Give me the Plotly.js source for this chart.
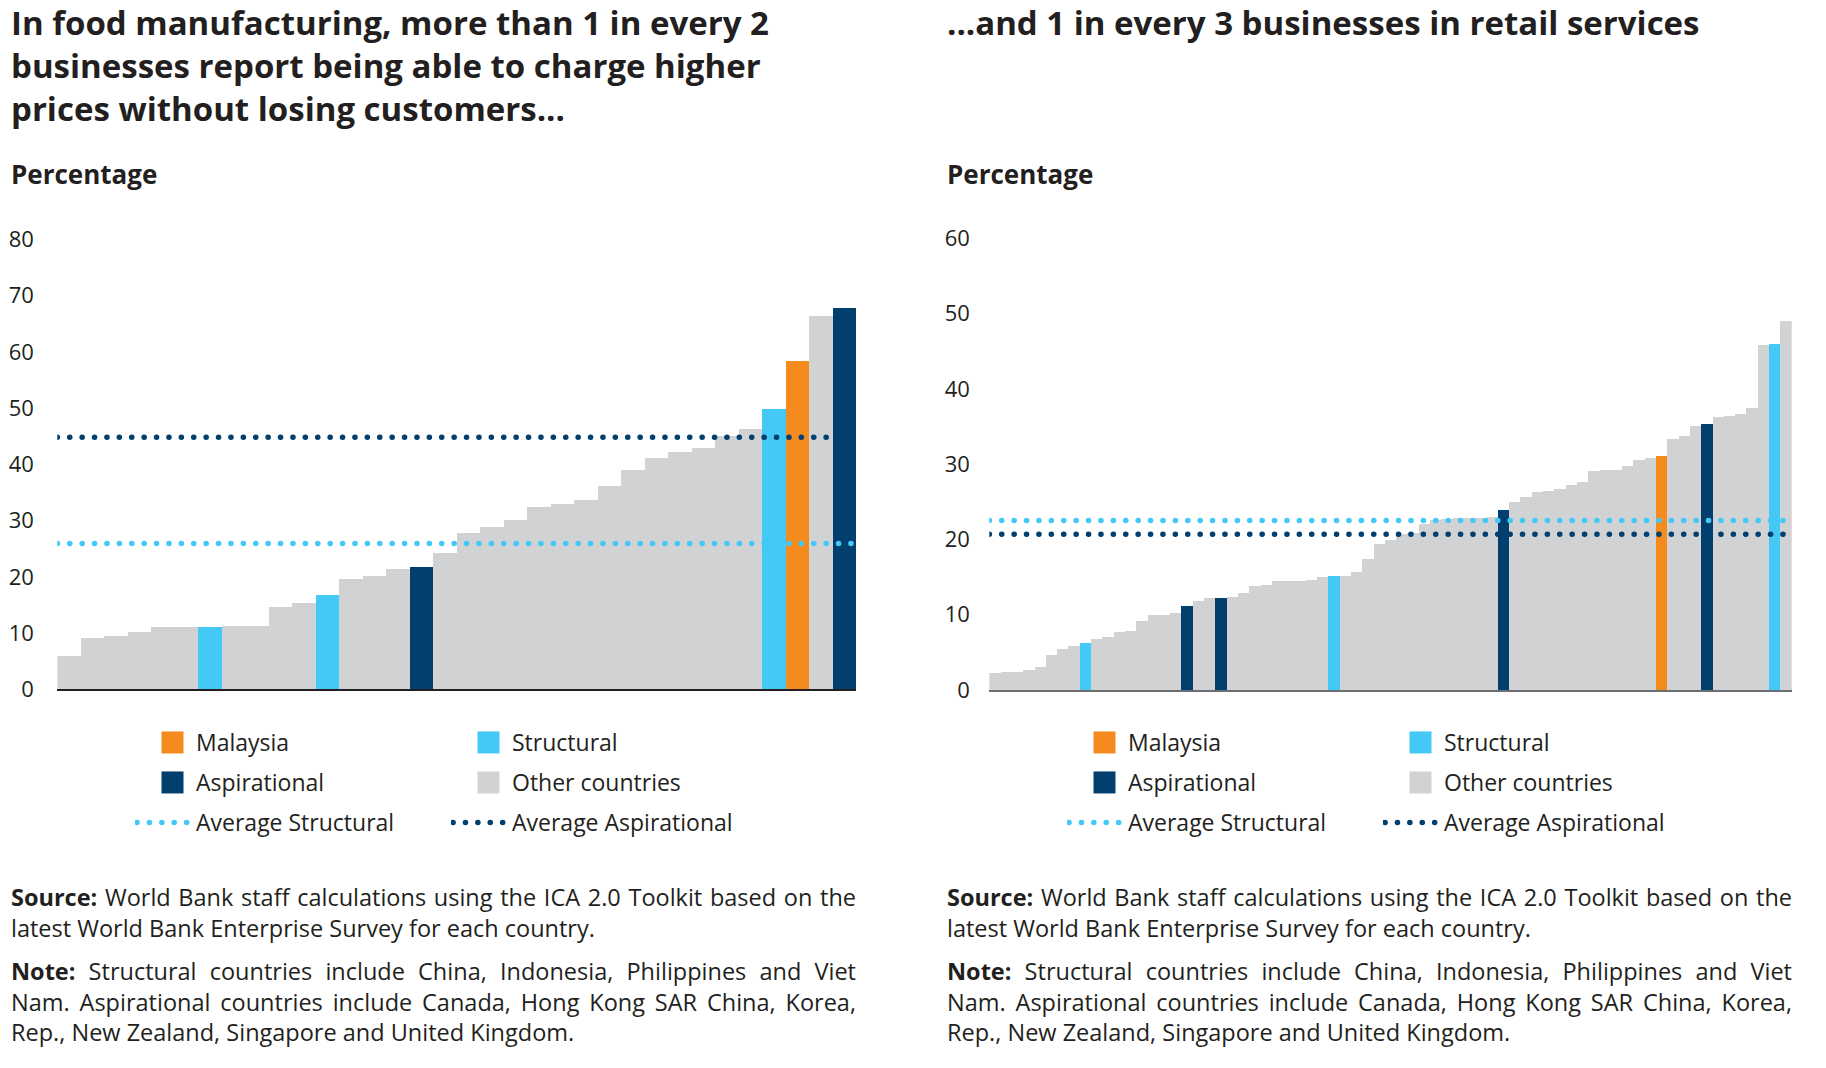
<!DOCTYPE html>
<html>
<head>
<meta charset="utf-8">
<script src="https://cdn.plot.ly/plotly-3.0.1.min.js"></script>
<style>
  body { margin: 0; background: #fff; }
  #chart { width: 1826px; height: 1068px; }
  /* round caps turn the dotted average lines into dots */
  #chart .js-line { stroke-linecap: round !important; }
</style>
</head>
<body>
<div id="chart"></div>
<script>
// food manufacturing, sorted ascending, one bar per country
const foodValues = [5.9, 9.05, 9.5, 10.2, 11.1, 11.1, 11.1, 11.2, 11.2, 14.6,
    15.3, 16.8, 19.6, 20.1, 21.4, 21.7, 24.3, 27.8, 28.8, 30.1,
    32.4, 32.9, 33.7, 36.1, 38.9, 41.1, 42.2, 42.9, 45.1, 46.2,
    49.8, 58.3, 66.3, 67.8];
// M = Malaysia, S = Structural, A = Aspirational, O = Other countries
const foodGroups = ['O', 'O', 'O', 'O', 'O', 'O', 'S', 'O', 'O', 'O',
    'O', 'S', 'O', 'O', 'O', 'A', 'O', 'O', 'O', 'O',
    'O', 'O', 'O', 'O', 'O', 'O', 'O', 'O', 'O', 'O',
    'S', 'M', 'O', 'A'];
const foodAvgStructural = 25.9;
const foodAvgAspirational = 44.8;

// retail services
const retailValues = [2.3, 2.4, 2.4, 2.6, 3.1, 4.6, 5.5, 5.9, 6.3, 6.8,
    7.0, 7.7, 7.9, 9.1, 9.9, 9.9, 10.2, 11.1, 11.8, 12.2,
    12.2, 12.3, 12.9, 13.8, 13.9, 14.5, 14.5, 14.5, 14.6, 15.0,
    15.1, 15.1, 15.7, 17.4, 19.4, 19.9, 20.7, 20.8, 22.0, 22.6,
    22.7, 22.8, 22.9, 22.9, 23.0, 23.9, 25.0, 25.6, 26.3, 26.5,
    26.7, 27.2, 27.6, 29.1, 29.2, 29.2, 29.7, 30.5, 30.8, 31.1,
    33.4, 33.8, 35.1, 35.4, 36.3, 36.4, 36.7, 37.4, 45.8, 45.9,
    49.0];
const retailGroups = ['O', 'O', 'O', 'O', 'O', 'O', 'O', 'O', 'S', 'O',
    'O', 'O', 'O', 'O', 'O', 'O', 'O', 'A', 'O', 'O',
    'A', 'O', 'O', 'O', 'O', 'O', 'O', 'O', 'O', 'O',
    'S', 'O', 'O', 'O', 'O', 'O', 'O', 'O', 'O', 'O',
    'O', 'O', 'O', 'O', 'O', 'A', 'O', 'O', 'O', 'O',
    'O', 'O', 'O', 'O', 'O', 'O', 'O', 'O', 'O', 'M',
    'O', 'O', 'O', 'A', 'O', 'O', 'O', 'O', 'O', 'S',
    'O'];
const retailAvgStructural = 22.5;
const retailAvgAspirational = 20.7;

const foodTicks = [0, 10, 20, 30, 40, 50, 60, 70, 80];
const retailTicks = [0, 10, 20, 30, 40, 50, 60];

const ORANGE = '#F58A1F';
const CYAN = '#44C8F5';
const NAVY = '#003F6E';
const GREY = '#D1D2D4';
const INK = '#231F20';
const FONT = '"Open Sans", "Noto Sans", sans-serif';

const W = 1826, H = 1068;
const px = x => x / W;
const py = y => 1 - y / H;

// legend columns: [first column, second column]
const groupDefs = [
    { key: 'M', name: 'Malaysia', color: ORANGE, col: 0 },
    { key: 'S', name: 'Structural', color: CYAN, col: 1 },
    { key: 'A', name: 'Aspirational', color: NAVY, col: 0 },
    { key: 'O', name: 'Other countries', color: GREY, col: 1 },
];

function chartTraces(values, groups, avgS, avgA, axis, legends, id) {
    const xa = 'x' + axis, ya = 'y' + axis;
    const traces = [];
    groupDefs.forEach(g => {
        const xs = [], ys = [];
        values.forEach((v, i) => {
            if (groups[i] === g.key) { xs.push(i); ys.push(v); }
        });
        traces.push({
            type: 'bar', x: xs, y: ys, width: 1, name: g.name,
            marker: { color: g.color, line: { width: 0 } },
            xaxis: xa, yaxis: ya,
            legend: legends[g.col], legendgroup: id + g.key,
            hoverinfo: 'skip',
        });
    });
    const ends = [-0.5, values.length - 0.5];
    traces.push({
        type: 'scatter', mode: 'lines', x: ends, y: [avgS, avgS],
        name: 'Average Structural',
        line: { color: CYAN, width: 5.5, dash: '0.1px,12.3px' },
        xaxis: xa, yaxis: ya,
        legend: legends[0], legendgroup: id + 'avgS', hoverinfo: 'skip',
    });
    traces.push({
        type: 'scatter', mode: 'lines', x: ends, y: [avgA, avgA],
        name: 'Average Aspirational',
        line: { color: NAVY, width: 5.5, dash: '0.1px,12.3px' },
        xaxis: xa, yaxis: ya,
        legend: legends[1], legendgroup: id + 'avgA', hoverinfo: 'skip',
    });
    return traces;
}

const data = [].concat(
    chartTraces(foodValues, foodGroups, foodAvgStructural, foodAvgAspirational,
        '', ['legend', 'legend2'], 'food'),
    chartTraces(retailValues, retailGroups, retailAvgStructural, retailAvgAspirational,
        '2', ['legend3', 'legend4'], 'retail')
);

function xAxis(n, domain, lineColor, anchor) {
    return {
        domain: domain, anchor: anchor, range: [-0.5, n - 0.5], fixedrange: true,
        showgrid: false, zeroline: false, showticklabels: false, ticks: '',
        showline: true, linecolor: lineColor, linewidth: 2,
    };
}
function yAxis(ticks, domain, standoff, anchor) {
    return {
        domain: domain, anchor: anchor, range: [0, ticks[ticks.length - 1]], fixedrange: true,
        tickvals: ticks, showgrid: false, zeroline: false, showline: false,
        ticks: 'outside', ticklen: standoff, tickcolor: 'rgba(0,0,0,0)',
        tickfont: { family: FONT, size: 22, color: INK },
    };
}
function legendAt(x) {
    return {
        x: px(x), xanchor: 'left', y: py(721), yanchor: 'top',
        orientation: 'v', traceorder: 'grouped', tracegroupgap: 7.1,
        itemwidth: 51, bgcolor: 'rgba(0,0,0,0)',
        font: { family: FONT, size: 23, color: INK },
        itemclick: false, itemdoubleclick: false,
    };
}
function text(x, y, html, size) {
    return {
        xref: 'paper', yref: 'paper', x: px(x), y: py(y),
        xanchor: 'left', yanchor: 'top', align: 'left',
        showarrow: false, borderpad: 0, borderwidth: 0,
        text: html, font: { family: FONT, size: size, color: INK },
    };
}

const sourceText = '<b>Source:</b> World Bank staff calculations using the ICA 2.0 Toolkit based on the<br>' +
    'latest World Bank Enterprise Survey for each country.';
const noteText = '<b>Note:</b> Structural countries include China, Indonesia, Philippines and Viet<br>' +
    'Nam. Aspirational countries include Canada, Hong Kong SAR China, Korea,<br>' +
    'Rep., New Zealand, Singapore and United Kingdom.';

const layout = {
    width: W, height: H,
    margin: { l: 0, r: 0, t: 0, b: 0 },
    paper_bgcolor: '#fff', plot_bgcolor: 'rgba(0,0,0,0)',
    barmode: 'overlay', bargap: 0,
    showlegend: true,
    font: { family: FONT, color: INK },
    xaxis: xAxis(foodValues.length, [px(57.3), px(856)], INK, 'y'),
    yaxis: yAxis(foodTicks, [py(689.3), py(239.3)], 18, 'x'),
    xaxis2: xAxis(retailValues.length, [px(989.3), px(1791.7)], '#6D6E71', 'y2'),
    yaxis2: yAxis(retailTicks, [py(690), py(238.3)], 14, 'x2'),
    legend: legendAt(135),
    legend2: legendAt(451),
    legend3: legendAt(1067),
    legend4: legendAt(1383),
    annotations: [
        text(11, 0, '<b>In food manufacturing, more than 1 in every 2<br>businesses report being able to charge higher<br>prices without losing customers...</b>', 33),
        text(947, 0, '<b>...and 1 in every 3 businesses in retail services</b>', 33),
        text(11, 156, '<b>Percentage</b>', 26),
        text(947, 156, '<b>Percentage</b>', 26),
        text(11, 881, sourceText, 23.5),
        text(947, 881, sourceText, 23.5),
        text(11, 955, noteText, 23.5),
        text(947, 955, noteText, 23.5),
    ],
};

// source and note paragraphs are justified in the original
const justified = [4, 5, 6, 7];
const JUSTIFY_WIDTH = 845;

function justifyNotes() {
    document.querySelectorAll('#chart g.annotation').forEach(g => {
        if (!justified.includes(+g.getAttribute('data-index'))) return;
        const lines = g.querySelectorAll('text.annotation-text > tspan.line');
        lines.forEach((t, i) => {
            if (i === lines.length - 1) return;
            t.style.wordSpacing = '0px';
            const len = t.getComputedTextLength();
            const gaps = (t.textContent.match(/[ \u00A0]/g) || []).length;
            if (gaps && len < JUSTIFY_WIDTH) {
                t.style.wordSpacing = ((JUSTIFY_WIDTH - len) / gaps) + 'px';
            }
        });
    });
}

// bigger, shifted squares and five-dot samples in the legends
function fixLegendSymbols() {
    document.querySelectorAll('#chart .legendpoints path').forEach(p => {
        p.setAttribute('d', 'M11,11H-11V-11H11Z');
        p.setAttribute('transform', 'translate(37.5,0)');
    });
    document.querySelectorAll('#chart .legendlines path').forEach(p => {
        p.setAttribute('d', 'M2,0h49.7');
    });
}

function finish() {
    fixLegendSymbols();
    justifyNotes();
}

const gd = document.getElementById('chart');
Plotly.newPlot(gd, data, layout, { displayModeBar: false, staticPlot: true })
    .then(() => {
        finish();
        gd.on('plotly_afterplot', finish);
    });
</script>
</body>
</html>
